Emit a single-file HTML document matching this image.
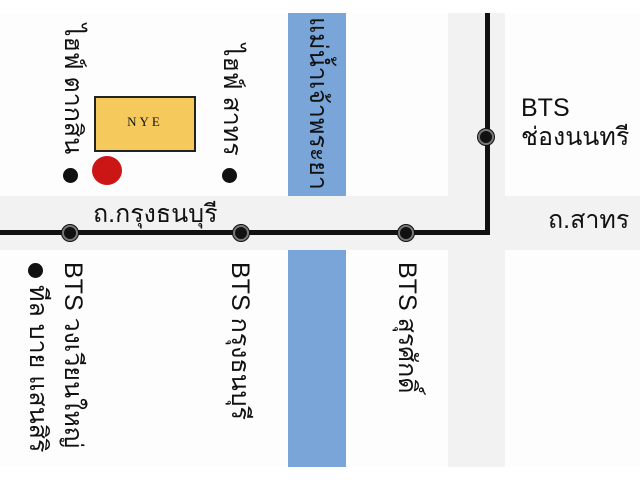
<!DOCTYPE html>
<html><head><meta charset="utf-8"><style>
body{margin:0;width:640px;height:480px;position:relative;overflow:hidden;background:#f1f2f1;font-family:"Liberation Sans",sans-serif;color:#111}
div{position:absolute}
.w{background:#fcfdfc}
.v{writing-mode:vertical-rl;font-size:25px;white-space:nowrap;line-height:30px}
.dot{background:#111;border-radius:50%}
.st{width:12px;height:12px;border-radius:50%;background:#111;border:2px solid #777;box-shadow:0 0 0 1px #111}
</style></head><body>
<div style="left:0;top:0;width:640px;height:13px;background:#fff"></div>
<div style="left:0;top:467px;width:640px;height:13px;background:#fff"></div>
<div class="w" style="left:0;top:13px;width:288px;height:183px"></div>
<div class="w" style="left:346px;top:13px;width:102px;height:183px"></div>
<div class="w" style="left:505px;top:13px;width:135px;height:183px"></div>
<div class="w" style="left:0;top:250px;width:288px;height:217px"></div>
<div class="w" style="left:346px;top:250px;width:102px;height:217px"></div>
<div class="w" style="left:505px;top:250px;width:135px;height:217px"></div>
<div style="left:288px;top:13px;width:58px;height:183px;background:#79a5d8;overflow:hidden"><div class="v" style="left:15px;top:4px;font-size:25px">แม่น้ำเจ้าพระยา</div></div>
<div style="left:288px;top:250px;width:58px;height:217px;background:#79a5d8"></div>
<div style="left:0;top:230px;width:490px;height:5px;background:#111"></div>
<div style="left:485px;top:13px;width:5px;height:222px;background:#111"></div>
<div class="st" style="left:62px;top:225px"></div>
<div class="st" style="left:233px;top:225px"></div>
<div class="st" style="left:398px;top:225px"></div>
<div class="st" style="left:478px;top:129px"></div>
<div class="dot" style="left:63px;top:168px;width:15px;height:15px"></div>
<div class="dot" style="left:222px;top:168px;width:15px;height:15px"></div>
<div class="dot" style="left:28px;top:263px;width:15px;height:15px"></div>
<div style="left:92px;top:156px;width:30px;height:29px;border-radius:50%;background:#cc1616"></div>
<div style="left:94px;top:96px;width:98px;height:52px;background:#f5c95b;border:2px solid #222;text-align:center;font-family:'Liberation Serif',serif;font-size:13px;letter-spacing:3px;line-height:48px">NYE</div>
<div class="v" style="left:58px;top:24px">ไฮฟ์ ตากสิน</div>
<div class="v" style="left:217px;top:44px">ไฮฟ์ สาทร</div>
<div class="v" style="left:58px;top:262px">BTS วงเวียนใหญ่</div>
<div class="v" style="left:23px;top:285px">ทีล บาย แสนสิริ</div>
<div class="v" style="left:225px;top:262px">BTS กรุงธนบุรี</div>
<div class="v" style="left:392px;top:262px">BTS สุรศักดิ์</div>
<div style="left:93px;top:194px;font-size:25px">ถ.กรุงธนบุรี</div>
<div style="left:548px;top:200px;font-size:25px">ถ.สาทร</div>
<div style="left:521px;top:94px;font-size:25px;line-height:29px">BTS<br>ช่องนนทรี</div>
</body></html>
